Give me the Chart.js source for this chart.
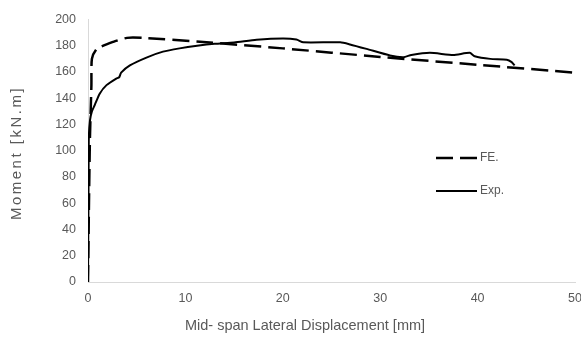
<!DOCTYPE html>
<html>
<head>
<meta charset="utf-8">
<script src="https://cdn.jsdelivr.net/npm/chart.js@4/dist/chart.umd.min.js"></script>
<style>
html,body{margin:0;padding:0;background:#fff;}
#wrap{width:581px;height:341px;position:relative;}
</style>
</head>
<body>
<div id="wrap"><canvas id="c" width="581" height="341"></canvas></div>
<script>
// Data
const feX = [0, 0.1, 0.2, 0.35, 0.4, 0.9, 2.6, 4.0, 5.6, 11.5, 20, 30, 40, 50];
const feY = [0, 60, 110, 150, 170, 177.5, 183, 186, 186, 183, 178, 171.5, 165.5, 159.5];

const expX = [0, 0.05, 0.08, 0.2, 0.4, 0.7, 1.2, 1.9, 2.9, 3.2, 3.4, 4.3, 6.0, 7.7, 9.4, 11.2, 13, 15, 17.3, 20.0, 21.4, 22.1, 25.9, 26.9, 28.6, 31.0, 32.4, 33.2, 35.1, 37.5, 39.2, 39.7, 41.3, 43.0, 43.5, 43.8];
const expY = [0, 60, 108, 123, 130, 135, 143.5, 150, 155, 156, 159.5, 165, 171, 175.5, 178, 180, 181.5, 182.5, 184.5, 185.5, 184.7, 182.6, 182.6, 181, 177.6, 172.6, 171.3, 173, 174.6, 173, 174.6, 172, 170, 169.4, 167.5, 165];

const seriesLabels = ['FE.', 'Exp.'];
const xTitle = 'Mid- span Lateral Displacement [mm]';
const yTitle = 'Moment [kN.m]';

const toPts = (xs, ys) => xs.map((x, i) => ({x: x, y: ys[i]}));

const FONT = "'Liberation Sans', Arial, sans-serif";
const TXT = '#595959';

const decorPlugin = {
  id: 'decor',
  afterDatasetsDraw(chart) {
    const ctx = chart.ctx;
    const items = [
      {ds: chart.data.datasets[0], y: 158},
      {ds: chart.data.datasets[1], y: 191}
    ];
    ctx.save();
    items.forEach(it => {
      ctx.beginPath();
      ctx.strokeStyle = it.ds.borderColor;
      ctx.lineWidth = it.ds.borderWidth;
      ctx.setLineDash(it.ds.borderDash || []);
      ctx.moveTo(436, it.y);
      ctx.lineTo(477, it.y);
      ctx.stroke();
      ctx.setLineDash([]);
      ctx.fillStyle = TXT;
      ctx.font = '12px ' + FONT;
      ctx.textBaseline = 'middle';
      ctx.textAlign = 'left';
      ctx.fillText(it.ds.label, 480, it.y);
    });
    // axis titles
    ctx.fillStyle = TXT;
    ctx.textAlign = 'center';
    ctx.textBaseline = 'middle';
    ctx.font = '14.5px ' + FONT;
    ctx.fillText(xTitle, 305, 326);
    ctx.translate(17, 153);
    ctx.rotate(-Math.PI / 2);
    ctx.font = '15px ' + FONT;
    if ('letterSpacing' in ctx) ctx.letterSpacing = '2.5px';
    ctx.fillText(yTitle, 0, 0);
    ctx.restore();
  }
};

new Chart(document.getElementById('c'), {
  type: 'scatter',
  data: {
    datasets: [
      {label: seriesLabels[0], data: toPts(feX, feY), showLine: true, borderColor: '#000', borderWidth: 2.5, borderDash: [17, 7], pointRadius: 0, tension: 0.2, fill: false},
      {label: seriesLabels[1], data: toPts(expX, expY), showLine: true, borderColor: '#000', borderWidth: 2, pointRadius: 0, tension: 0.2, fill: false}
    ]
  },
  options: {
    responsive: false,
    animation: false,
    layout: {padding: {top: 17, right: 6, left: 0, bottom: 0}},
    plugins: {legend: {display: false}, tooltip: {enabled: false}},
    scales: {
      x: {
        type: 'linear', min: 0, max: 50,
        ticks: {stepSize: 10, color: TXT, font: {family: FONT, size: 12.5}, padding: 9},
        grid: {display: false, drawTicks: false},
        border: {display: true, color: '#d9d9d9', width: 1},
        title: {display: false},
        afterFit(s) { s.height = 59; s.paddingRight = 0; s.paddingLeft = 0; }
      },
      y: {
        min: 0, max: 200,
        ticks: {stepSize: 20, color: TXT, font: {family: FONT, size: 12.5}, padding: 12},
        grid: {display: false, drawTicks: false},
        border: {display: true, color: '#d9d9d9', width: 1},
        title: {display: false},
        afterFit(s) { s.width = 88; }
      }
    }
  },
  plugins: [decorPlugin]
});
</script>
</body>
</html>
